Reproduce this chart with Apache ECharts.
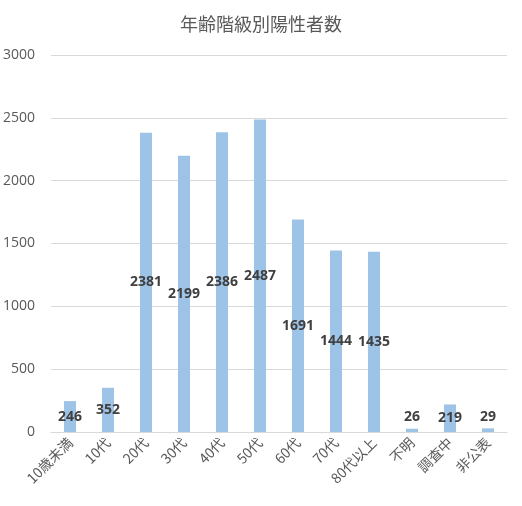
<!DOCTYPE html>
<html><head><meta charset="utf-8">
<script src="https://cdn.jsdelivr.net/npm/echarts@6/dist/echarts.min.js"></script>
<style>html,body{margin:0;padding:0;background:#fff}#c{width:522px;height:506px}</style>
</head><body><div id="c"></div>
<script>
const categories = ['10歳未満','10代','20代','30代','40代','50代','60代','70代','80代以上','不明','調査中','非公表'];
const values = [246,352,2381,2199,2386,2487,1691,1444,1435,26,219,29];
const yTicks = {min:0, max:3000, interval:500};
const font = '"Open Sans","Noto Sans CJK JP",sans-serif';
const chart = echarts.init(document.getElementById('c'));
chart.setOption({
  animation:false,
  title:{text:'年齢階級別陽性者数',left:'center',top:10,textStyle:{fontFamily:'"Noto Sans CJK JP",sans-serif',fontSize:18,fontWeight:'normal',color:'#595959'}},
  grid:{left:51,right:15,top:55,bottom:74},
  xAxis:{type:'category',data:categories,
    axisLine:{lineStyle:{color:'#d9d9d9'}},axisTick:{show:false},
    axisLabel:{rotate:45,interval:0,color:'#595959',fontSize:14,fontFamily:'"Noto Sans CJK JP",sans-serif',margin:8}},
  yAxis:{type:'value',min:yTicks.min,max:yTicks.max,interval:yTicks.interval,
    axisLine:{show:false},axisTick:{show:false},
    splitLine:{lineStyle:{color:'#d9d9d9'}},
    axisLabel:{color:'#595959',fontSize:14,fontFamily:font,margin:16,formatter:v=>String(v)}},
  series:[{type:'bar',barWidth:12,
    itemStyle:{color:'#9DC3E6'},
    label:{show:true,position:'inside',color:'#404040',fontWeight:'bold',fontSize:14,fontFamily:font},
    data:values.map(v => v < 200 ? {value:v,label:{position:'insideBottom',distance:8}} : v)
  }]
});
</script></body></html>
